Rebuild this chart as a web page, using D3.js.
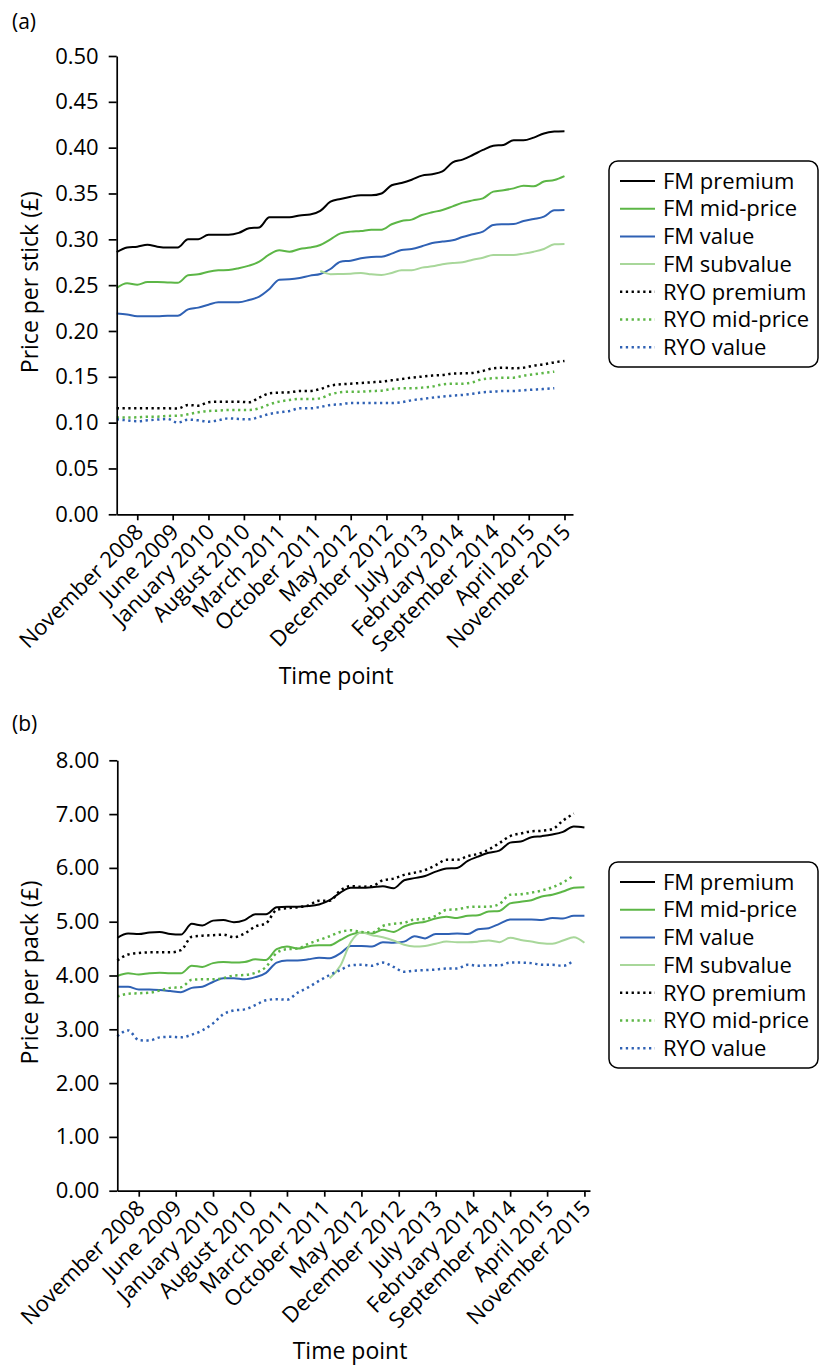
<!DOCTYPE html>
<html>
<head>
<meta charset="utf-8">
<script src="https://cdn.jsdelivr.net/npm/d3@7"></script>
<style>
  body { margin: 0; background: #fff; }
  svg { display: block; font-family: "Open Sans", "Noto Sans", sans-serif; }
</style>
</head>
<body>
<svg id="chart" width="821" height="1367"></svg>
<script>
// Time points (every second month) and the labelled months on the time axis
const timePoints = ["2008-07","2008-09","2008-11","2009-01","2009-03","2009-05","2009-07","2009-09","2009-11",
  "2010-01","2010-03","2010-05","2010-07","2010-09","2010-11","2011-01","2011-03","2011-05","2011-07","2011-09","2011-11",
  "2012-01","2012-03","2012-05","2012-07","2012-09","2012-11","2013-01","2013-03","2013-05","2013-07","2013-09","2013-11",
  "2014-01","2014-03","2014-05","2014-07","2014-09","2014-11","2015-01","2015-03","2015-05","2015-07","2015-09","2015-11"];
const tickMonths = ["2008-11","2009-06","2010-01","2010-08","2011-03","2011-10","2012-05","2012-12",
  "2013-07","2014-02","2014-09","2015-04","2015-11"];
const seriesNames = ["FM premium","FM mid-price","FM value","FM subvalue","RYO premium","RYO mid-price","RYO value"];

// (a) price per stick, £
const stickFmPremium = [0.286,0.291,0.292,0.294,0.292,0.291,0.291,0.300,0.300,0.305,0.305,0.305,0.307,0.312,0.313,0.324,0.324,0.324,0.326,0.327,0.331,0.341,0.344,
  0.3465,0.348,0.348,0.350,0.359,0.3615,0.365,0.3695,0.371,0.374,0.384,0.387,0.392,0.3975,0.402,0.403,0.408,0.408,0.411,0.4155,0.4175,0.418];
const stickFmMid = [0.247,0.252,0.2505,0.2535,0.2535,0.253,0.2525,0.2607,0.2618,0.2647,0.2662,0.2665,0.2684,0.2713,0.2756,0.2836,0.288,0.2865,0.2895,0.291,0.2938,0.300,0.3065,
  0.3084,0.309,0.3105,0.3105,0.3164,0.320,0.3215,0.3265,0.3295,0.332,0.336,0.340,0.3425,0.3447,0.352,0.3535,0.3556,0.3585,0.3578,0.363,0.3647,0.369];
const stickFmValue = [0.219,0.218,0.216,0.216,0.216,0.2167,0.2167,0.2236,0.2255,0.2287,0.2313,0.2313,0.2313,0.2338,0.2375,0.2458,0.256,0.2564,0.2578,0.2604,0.2622,0.2676,0.2756,
  0.2767,0.2793,0.2807,0.281,0.2844,0.2884,0.2895,0.2924,0.296,0.2975,0.2989,0.3025,0.3055,0.3084,0.3156,0.3164,0.3167,0.320,0.3222,0.3247,0.3316,0.332];
const stickFmSubvalue = [null,null,null,null,null,null,null,null,null,null,null,null,null,null,null,null,null,null,null,null,
  0.2655,0.262,0.2622,0.2625,0.2633,0.2618,0.2611,0.2633,0.2662,0.2662,0.2691,0.2705,0.2727,0.2742,0.2749,0.2778,0.280,0.2829,0.2829,0.2829,0.2844,0.2865,0.2895,0.2945,0.2949];
const stickRyoPremium = [0.1156,0.1156,0.1156,0.1156,0.1156,0.1156,0.1153,0.1193,0.1185,0.1222,0.1229,0.1229,0.1229,0.1222,0.1273,0.132,0.1327,0.1331,0.1345,0.1345,0.1367,0.1404,0.1418,
  0.1425,0.1433,0.144,0.1447,0.1462,0.1476,0.1491,0.1502,0.1513,0.152,0.1535,0.1538,0.1542,0.1564,0.1593,0.160,0.1593,0.160,0.1622,0.1636,0.1658,0.1673];
const stickRyoMid = [0.1058,0.1055,0.1058,0.1065,0.1065,0.1073,0.1076,0.1091,0.1113,0.1127,0.1131,0.1138,0.1138,0.1138,0.1156,0.120,0.1229,0.1247,0.1258,0.1258,0.1265,0.1309,0.1331,
  0.1338,0.1338,0.1345,0.1349,0.1367,0.1375,0.1375,0.1382,0.1393,0.1418,0.1425,0.1425,0.144,0.1476,0.1484,0.1491,0.1491,0.1513,0.1527,0.1542,0.1556,null];
const stickRyoValue = [0.1036,0.1025,0.1015,0.1025,0.1033,0.104,0.100,0.1033,0.1025,0.1011,0.1025,0.1047,0.104,0.1036,0.1062,0.1095,0.1113,0.1127,0.1156,0.1156,0.1171,0.1193,0.120,
  0.1215,0.1215,0.1215,0.1215,0.1215,0.1222,0.1244,0.1258,0.1273,0.1284,0.1295,0.1302,0.1316,0.1331,0.1338,0.1345,0.1345,0.1353,0.136,0.1367,0.1375,null];

// (b) price per pack, £
const packFmPremium = [4.70,4.78,4.77,4.80,4.81,4.77,4.76,4.96,4.93,5.02,5.03,4.99,5.03,5.14,5.14,5.27,5.28,5.28,5.29,5.32,5.40,5.54,5.63,
  5.63,5.64,5.66,5.62,5.77,5.81,5.85,5.93,5.99,6.00,6.13,6.21,6.28,6.32,6.47,6.49,6.57,6.59,6.62,6.67,6.77,6.75];
const packFmMid = [3.99,4.04,4.02,4.04,4.05,4.04,4.04,4.18,4.16,4.23,4.25,4.24,4.25,4.30,4.29,4.49,4.54,4.50,4.54,4.56,4.56,4.66,4.76,
  4.80,4.78,4.85,4.81,4.91,4.97,5.00,5.06,5.09,5.07,5.11,5.12,5.19,5.20,5.34,5.37,5.40,5.47,5.50,5.56,5.63,5.64];
const packFmValue = [3.79,3.79,3.74,3.74,3.73,3.71,3.69,3.77,3.79,3.88,3.95,3.95,3.93,3.97,4.05,4.24,4.28,4.28,4.30,4.33,4.32,4.41,4.55,
  4.55,4.54,4.62,4.61,4.63,4.73,4.69,4.77,4.77,4.78,4.77,4.86,4.88,4.96,5.04,5.04,5.04,5.03,5.07,5.06,5.11,5.11];
const packFmSubvalue = [null,null,null,null,null,null,null,null,null,null,null,null,null,null,null,null,null,null,null,null,
  3.95,4.18,4.62,4.80,4.75,4.71,4.65,4.57,4.54,4.55,4.59,4.63,4.62,4.62,4.63,4.65,4.62,4.70,4.66,4.63,4.60,4.59,4.65,4.71,4.61];
const packRyoPremium = [4.28,4.39,4.42,4.43,4.43,4.43,4.47,4.72,4.74,4.75,4.76,4.71,4.78,4.91,4.97,5.22,5.25,5.27,5.30,5.39,5.39,5.58,5.66,
  5.65,5.66,5.77,5.80,5.87,5.91,5.96,6.05,6.15,6.15,6.22,6.26,6.34,6.46,6.59,6.64,6.68,6.69,6.72,6.88,7.01,null];
const packRyoMid = [3.61,3.66,3.67,3.68,3.72,3.77,3.78,3.92,3.93,3.93,3.95,4.00,4.01,4.05,4.16,4.42,4.49,4.50,4.59,4.66,4.73,4.81,4.84,
  4.81,4.80,4.92,4.96,4.98,5.04,5.05,5.11,5.22,5.23,5.27,5.28,5.28,5.33,5.50,5.51,5.54,5.58,5.64,5.73,5.86,null];
const packRyoValue = [2.87,2.98,2.80,2.79,2.85,2.86,2.85,2.90,2.98,3.11,3.28,3.35,3.37,3.45,3.54,3.56,3.55,3.68,3.78,3.90,4.01,4.10,4.19,
  4.20,4.18,4.24,4.16,4.07,4.09,4.10,4.11,4.13,4.13,4.20,4.18,4.19,4.19,4.24,4.24,4.23,4.20,4.20,4.18,4.28,null];

// Line styles, in legend order
const styles = [
  { color: "#000000", dotted: false },
  { color: "#5cb646", dotted: false },
  { color: "#2f61b4", dotted: false },
  { color: "#a8d79a", dotted: false },
  { color: "#000000", dotted: true },
  { color: "#5cb646", dotted: true },
  { color: "#2f61b4", dotted: true }
];

const parseMonth = d3.timeParse("%Y-%m");
const dates = timePoints.map(parseMonth);
const tickDates = tickMonths.map(parseMonth);

const panels = [
  {
    tag: "(a)", tagY: 29,
    left: 116.7, right: 573, top: 56, bottom: 514.3,
    end: new Date(2015, 11, 22),
    yMax: 0.5, yStep: 0.05,
    yTitle: "Price per stick (£)",
    xTitleY: 684, xTitleX: 336,
    legendTop: 161,
    values: [stickFmPremium, stickFmMid, stickFmValue, stickFmSubvalue, stickRyoPremium, stickRyoMid, stickRyoValue]
  },
  {
    tag: "(b)", tagY: 731,
    left: 117.3, right: 590, top: 760.3, bottom: 1190.7,
    end: new Date(2015, 11, 3),
    yMax: 8, yStep: 1,
    yTitle: "Price per pack (£)",
    xTitleY: 1359, xTitleX: 350,
    legendTop: 862,
    values: [packFmPremium, packFmMid, packFmValue, packFmSubvalue, packRyoPremium, packRyoMid, packRyoValue]
  }
];

const svg = d3.select("#chart");
const FONT = 22;
const TITLE_FONT = 23;

panels.forEach(p => {
  const g = svg.append("g");

  const x = d3.scaleTime().domain([dates[0], p.end]).range([p.left, p.right]);
  const y = d3.scaleLinear().domain([0, p.yMax]).range([p.bottom, p.top]);

  g.append("text")
    .attr("x", 12).attr("y", p.tagY)
    .attr("font-size", 21).attr("fill", "#000")
    .text(p.tag);

  // price lines
  p.values.forEach((vals, i) => {
    const st = styles[i];
    const pts = vals.map((v, j) => ({ d: dates[j], v }));
    const line = d3.line()
      .defined(d => d.v != null)
      .x(d => x(d.d))
      .y(d => y(d.v))
      .curve(d3.curveMonotoneX);
    g.append("path")
      .datum(pts)
      .attr("d", line)
      .attr("fill", "none")
      .attr("stroke", st.color)
      .attr("stroke-width", st.dotted ? 2.5 : 2)
      .attr("stroke-dasharray", st.dotted ? "2.3,3.5" : null)
      .attr("stroke-linejoin", "round");
  });

  // y axis
  const yTicks = d3.range(0, p.yMax + p.yStep / 2, p.yStep);
  const yAxis = g.append("g")
    .attr("transform", `translate(${p.left},0)`)
    .call(d3.axisLeft(y).tickValues(yTicks).tickFormat(d3.format(".2f"))
      .tickSize(8).tickSizeOuter(0).tickPadding(10));
  yAxis.attr("font-family", null).attr("font-size", FONT);
  yAxis.selectAll("path, line").attr("stroke", "#000").attr("stroke-width", 1.7);
  yAxis.selectAll("text").attr("fill", "#000");

  // time axis
  const xAxis = g.append("g")
    .attr("transform", `translate(0,${p.bottom})`)
    .call(d3.axisBottom(x).tickValues(tickDates).tickFormat(d3.timeFormat("%B %Y"))
      .tickSize(6).tickSizeOuter(0));
  xAxis.attr("font-family", null).attr("font-size", FONT);
  xAxis.selectAll("path, line").attr("stroke", "#000").attr("stroke-width", 1.7);
  xAxis.selectAll("text")
    .attr("fill", "#000")
    .attr("text-anchor", "end")
    .attr("dy", null)
    .attr("y", 0)
    .attr("transform", "translate(7,19) rotate(-45)");

  // axis titles
  g.append("text")
    .attr("transform", `translate(38,${(p.top + p.bottom) / 2 - 3}) rotate(-90)`)
    .attr("text-anchor", "middle")
    .attr("font-size", TITLE_FONT).attr("fill", "#000")
    .text(p.yTitle);
  g.append("text")
    .attr("x", p.xTitleX).attr("y", p.xTitleY)
    .attr("text-anchor", "middle")
    .attr("font-size", TITLE_FONT).attr("fill", "#000")
    .text("Time point");

  // legend
  const lg = g.append("g").attr("transform", `translate(609,${p.legendTop})`);
  const rowH = 27.7;
  lg.append("rect")
    .attr("x", 0).attr("y", 0)
    .attr("width", 209).attr("height", rowH * seriesNames.length + 12)
    .attr("rx", 9).attr("ry", 9)
    .attr("fill", "#fff").attr("stroke", "#000").attr("stroke-width", 1.5);
  seriesNames.forEach((name, i) => {
    const st = styles[i];
    const cy = 20 + i * rowH;
    lg.append("line")
      .attr("x1", 11).attr("x2", 46).attr("y1", cy).attr("y2", cy)
      .attr("stroke", st.color)
      .attr("stroke-width", st.dotted ? 2.5 : 2)
      .attr("stroke-dasharray", st.dotted ? "2.3,3.5" : null);
    lg.append("text")
      .attr("x", 54).attr("y", cy)
      .attr("dy", "0.35em")
      .attr("font-size", FONT).attr("fill", "#000")
      .text(name);
  });
});
</script>
</body>
</html>
